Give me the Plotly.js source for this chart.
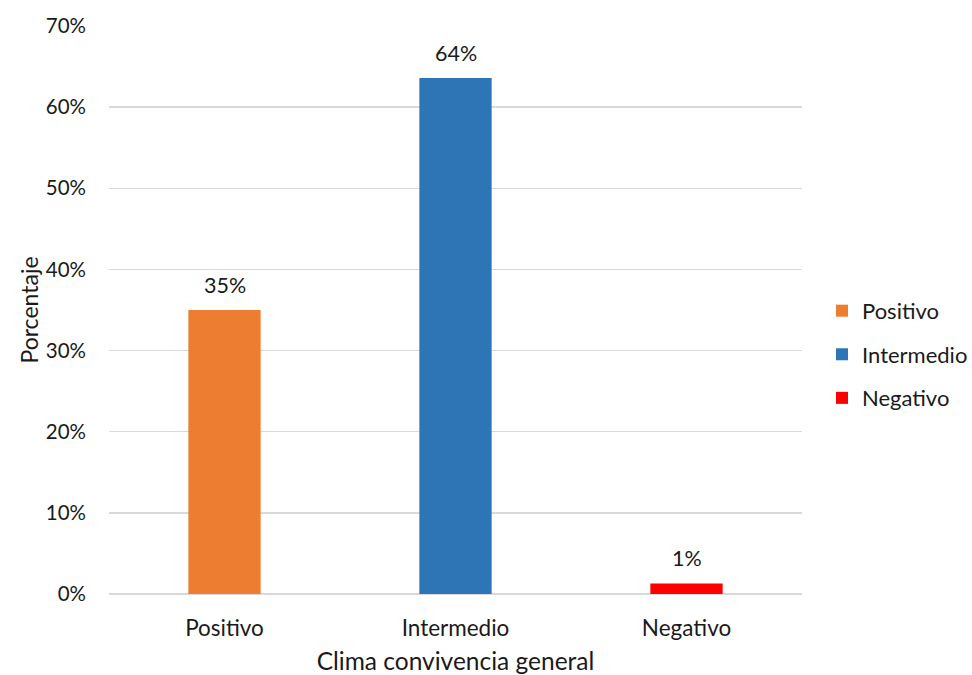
<!DOCTYPE html>
<html>
<head>
<meta charset="utf-8">
<script src="https://cdn.plot.ly/plotly-3.0.1.min.js"></script>
<style>
  html, body { margin: 0; padding: 0; background: #ffffff; }
  #chart { width: 972px; height: 675px; }
</style>
</head>
<body>
<div id="chart"></div>
<script>
// Clima de convivencia general: share of responses per category
const categories = ['Positivo', 'Intermedio', 'Negativo'];
const shares = [0.35, 0.636, 0.013];
const barColors = ['#ED7D31', '#2E75B6', '#FF0000'];
const yTickValues = [0, 0.1, 0.2, 0.3, 0.4, 0.5, 0.6, 0.7];
const yTickLabels = ['0%', '10%', '20%', '30%', '40%', '50%', '60%', '70%'];

const FONT = 'Lato, "Open Sans", sans-serif';
const TEXT_COLOR = '#1a1a1a';

// one trace per category so each gets its own legend entry
const traces = categories.map((cat, i) => ({
  type: 'bar',
  name: cat,
  x: [cat],
  y: [shares[i]],
  width: 0.313,
  marker: { color: barColors[i], line: { width: 0 } },
  legendgroup: cat,
  hoverinfo: 'skip'
}));

// value labels above each bar
const labels = categories.map((cat, i) => ({
  x: cat,
  y: shares[i],
  xref: 'x',
  yref: 'y',
  text: Math.round(shares[i] * 100) + '%',
  showarrow: false,
  yanchor: 'bottom',
  yshift: 10,
  font: { family: FONT, size: 21.5, color: TEXT_COLOR }
}));

const layout = {
  width: 972,
  height: 675,
  margin: { l: 109, r: 170, t: 26, b: 81 },
  paper_bgcolor: '#ffffff',
  plot_bgcolor: '#ffffff',
  barmode: 'overlay',
  showlegend: true,
  font: { family: FONT, size: 20, color: TEXT_COLOR },
  xaxis: {
    type: 'category',
    categoryorder: 'array',
    categoryarray: categories,
    showgrid: false,
    zeroline: false,
    showline: false,
    ticks: '',
    tickfont: { family: FONT, size: 22.5, color: TEXT_COLOR },
    ticklabelstandoff: 18,
    title: {
      text: 'Clima convivencia general',
      font: { family: FONT, size: 24.5, color: TEXT_COLOR },
      standoff: 15
    },
    fixedrange: true
  },
  yaxis: {
    range: [0, 0.7],
    tickvals: yTickValues,
    ticktext: yTickLabels,
    showgrid: true,
    gridcolor: '#d9d9d9',
    gridwidth: 1.5,
    zeroline: true,
    zerolinecolor: '#d9d9d9',
    zerolinewidth: 1.5,
    showline: false,
    ticks: '',
    ticklabelstandoff: 22,
    tickfont: { family: FONT, size: 20.5, color: TEXT_COLOR },
    title: {
      text: 'Porcentaje',
      font: { family: FONT, size: 23, color: TEXT_COLOR },
      standoff: 0
    },
    fixedrange: true
  },
  legend: {
    xref: 'container',
    yref: 'container',
    x: 0.8457,
    xanchor: 'left',
    y: 0.475,
    yanchor: 'middle',
    traceorder: 'grouped',
    tracegroupgap: 12,
    font: { family: FONT, size: 22, color: TEXT_COLOR },
    itemwidth: 30,
    bgcolor: 'rgba(0,0,0,0)'
  },
  annotations: labels
};

Plotly.newPlot('chart', traces, layout, { displayModeBar: false, staticPlot: true });
</script>
</body>
</html>
